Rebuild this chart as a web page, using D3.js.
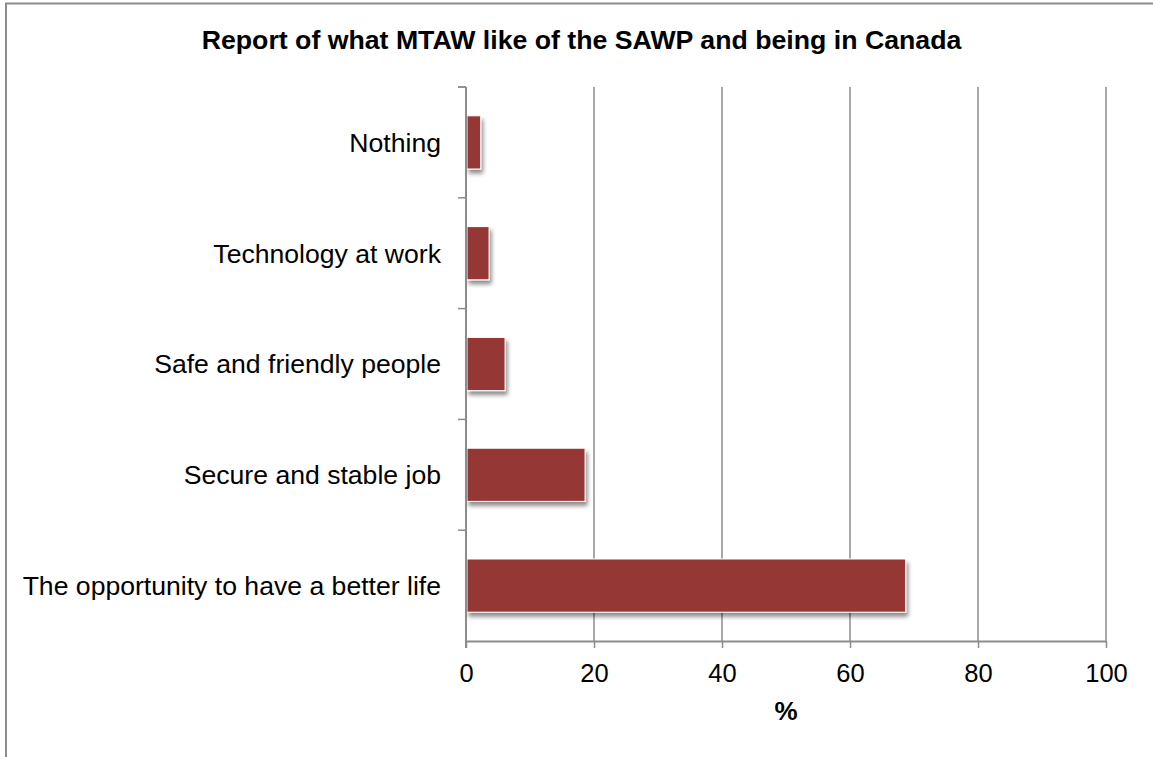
<!DOCTYPE html>
<html><head><meta charset="utf-8">
<script src="https://cdn.jsdelivr.net/npm/d3@7"></script>
<style>
html,body{margin:0;padding:0;background:#fff;}
svg{display:block;font-family:"Liberation Sans",Arial,sans-serif;}
</style></head>
<body>
<svg id="chart" width="1153" height="757"></svg>
<script>
const title = "Report of what MTAW like of the SAWP and being in Canada";
const categories = ["Nothing","Technology at work","Safe and friendly people","Secure and stable job","The opportunity to have a better life"];
const values = [2.3, 3.6, 6.1, 18.6, 68.7];
const xTicks = [0,20,40,60,80,100];
const xLabel = "%";

(function(){
const svg = d3.select("#chart");
const W = 1153, H = 757;
const pLeft = 466, pRight = 1106, pTop = 87, pBottom = 641;

// chart border
svg.append("path").attr("d", `M6,${H+2} V3.5 H${W+2}`).attr("fill","none").attr("stroke","#8c8c8c").attr("stroke-width",2);

const defs = svg.append("defs");
const f = defs.append("filter").attr("id","shadow").attr("x","-20%").attr("y","-30%").attr("width","160%").attr("height","180%");
f.append("feGaussianBlur").attr("in","SourceAlpha").attr("stdDeviation",2.2).attr("result","b");
f.append("feOffset").attr("in","b").attr("dx",1.5).attr("dy",3.5).attr("result","o");
f.append("feComponentTransfer").attr("in","o").attr("result","o2").append("feFuncA").attr("type","linear").attr("slope",0.45);
const m = f.append("feMerge"); m.append("feMergeNode").attr("in","o2"); m.append("feMergeNode").attr("in","SourceGraphic");

const x = d3.scaleLinear().domain([0,100]).range([pLeft,pRight]);
const y = d3.scaleBand().domain(categories.slice().reverse()).range([pBottom,pTop]).paddingInner(0.52).paddingOuter(0.26);
const yb = d3.scaleBand().domain(categories.slice().reverse()).range([pBottom,pTop]);

// gridlines
svg.append("g").selectAll("line").data(xTicks.filter(d=>d>0)).join("line")
  .attr("x1",d=>x(d)).attr("x2",d=>x(d)).attr("y1",pTop).attr("y2",pBottom)
  .attr("stroke","#8c8c8c").attr("stroke-width",1.5);

// bars
svg.append("g").selectAll("rect").data(categories).join("rect")
  .attr("x",x(0)+1).attr("y",d=>y(d))
  .attr("width",(d,i)=>x(values[i])-x(0)-1).attr("height",y.bandwidth())
  .attr("fill","#953735").attr("stroke","#ffffff").attr("stroke-width",1)
  .attr("filter","url(#shadow)");

// x axis
const xa = svg.append("g").attr("transform",`translate(0,${pBottom})`)
  .call(d3.axisBottom(x).tickValues(xTicks).tickSize(7).tickPadding(15.5).tickSizeOuter(0));
xa.select(".domain").attr("stroke","#8c8c8c").attr("stroke-width",2);
xa.selectAll(".tick line").attr("stroke","#8c8c8c").attr("stroke-width",1.5);
xa.selectAll("text").attr("font-size",25.5).attr("fill","#000").attr("font-family","Liberation Sans, Arial, sans-serif");

// y axis: ticks at band boundaries
const boundaries = yb.domain().map(d=>yb(d)).concat([pTop]);
const ya = svg.append("g");
ya.append("line").attr("x1",pLeft).attr("x2",pLeft).attr("y1",pTop).attr("y2",pBottom+7).attr("stroke","#8c8c8c").attr("stroke-width",2);
ya.selectAll("line.t").data(boundaries).join("line").attr("class","t")
  .attr("x1",pLeft-8).attr("x2",pLeft).attr("y1",d=>d).attr("y2",d=>d)
  .attr("stroke","#8c8c8c").attr("stroke-width",1.5);
ya.selectAll("text").data(categories).join("text")
  .attr("x",441).attr("y",d=>yb(d)+yb.bandwidth()/2).attr("dy","0.35em")
  .attr("text-anchor","end").attr("font-size",26.6).attr("fill","#000").text(d=>d);

// title
svg.append("text").attr("x",581.5).attr("y",48.5).attr("text-anchor","middle")
  .attr("font-size",26.7).attr("font-weight","bold").attr("fill","#000").text(title);
// x label
svg.append("text").attr("x",786).attr("y",720).attr("text-anchor","middle")
  .attr("font-size",26).attr("font-weight","bold").attr("fill","#000").text(xLabel);
})();
</script>
</body></html>
